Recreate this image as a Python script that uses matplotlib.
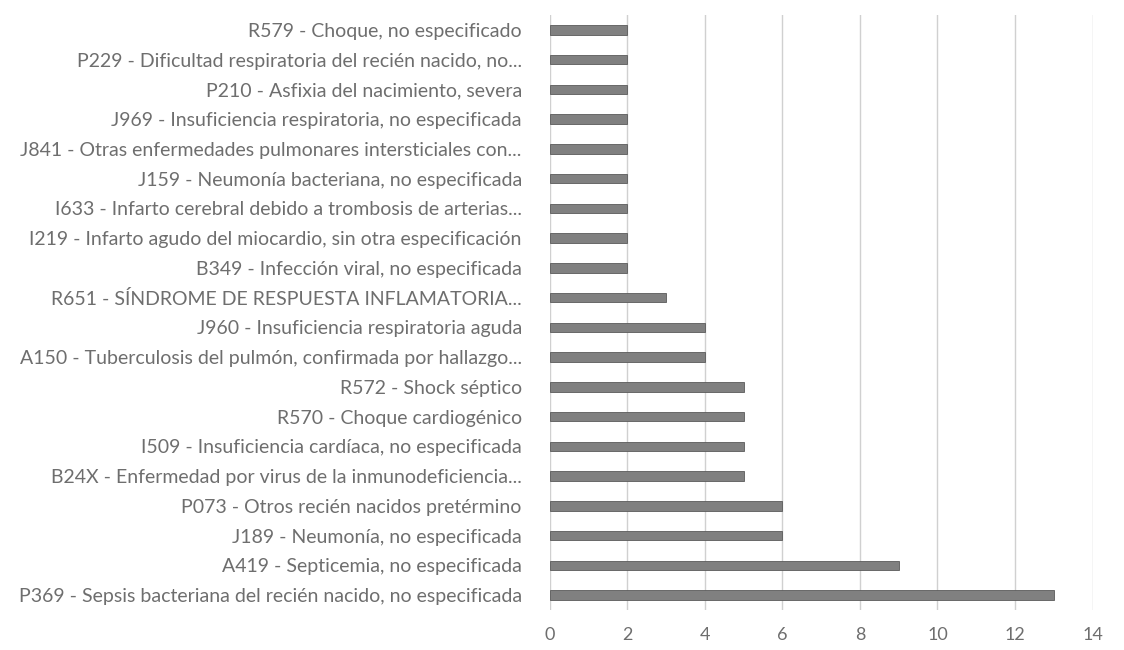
import numpy as np
import matplotlib.pyplot as plt

# diagnosticos (de arriba hacia abajo, como en la imagen)
labels = [
    "R579 - Choque, no especificado",
    "P229 - Dificultad respiratoria del recién nacido, no...",
    "P210 - Asfixia del nacimiento, severa",
    "J969 - Insuficiencia respiratoria, no especificada",
    "J841 - Otras enfermedades pulmonares intersticiales con...",
    "J159 - Neumonía bacteriana, no especificada",
    "I633 - Infarto cerebral debido a trombosis de arterias...",
    "I219 - Infarto agudo del miocardio, sin otra especificación",
    "B349 - Infección viral, no especificada",
    "R651 - SÍNDROME DE RESPUESTA INFLAMATORIA...",
    "J960 - Insuficiencia respiratoria aguda",
    "A150 - Tuberculosis del pulmón, confirmada por hallazgo...",
    "R572 - Shock séptico",
    "R570 - Choque cardiogénico",
    "I509 - Insuficiencia cardíaca, no especificada",
    "B24X - Enfermedad por virus de la inmunodeficiencia...",
    "P073 - Otros recién nacidos pretérmino",
    "J189 - Neumonía, no especificada",
    "A419 - Septicemia, no especificada",
    "P369 - Sepsis bacteriana del recién nacido, no especificada",
]
values = [2, 2, 2, 2, 2, 2, 2, 2, 2, 3, 4, 4, 5, 5, 5, 5, 6, 6, 9, 13]
xticks = [0, 2, 4, 6, 8, 10, 12, 14]

plt.rcParams['font.family'] = ['Lato', 'DejaVu Sans']

fig = plt.figure(figsize=(11.24, 6.5), dpi=100)
ax = fig.add_axes([0.489, 0.0615, 0.483, 0.9155])

y = np.arange(len(labels))[::-1]
ax.barh(y, values, height=0.32, color='#808080', edgecolor='#5a5a5a', linewidth=0.6, zorder=3)

ax.set_xlim(0, 14)
ax.set_ylim(-0.5, len(labels) - 0.5)
ax.set_xticks(xticks)
ax.set_yticks(y)
ax.set_yticklabels(labels)
ax.tick_params(axis='y', length=0, pad=20, labelsize=14, labelcolor='#6e6e6e')
ax.tick_params(axis='x', length=0, pad=12, labelsize=13, labelcolor='#6e6e6e')

ax.grid(axis='x', color='#d0d0d0', linewidth=1, zorder=0)
for s in ax.spines.values():
    s.set_visible(False)

fig.savefig('out.png', dpi=100)
